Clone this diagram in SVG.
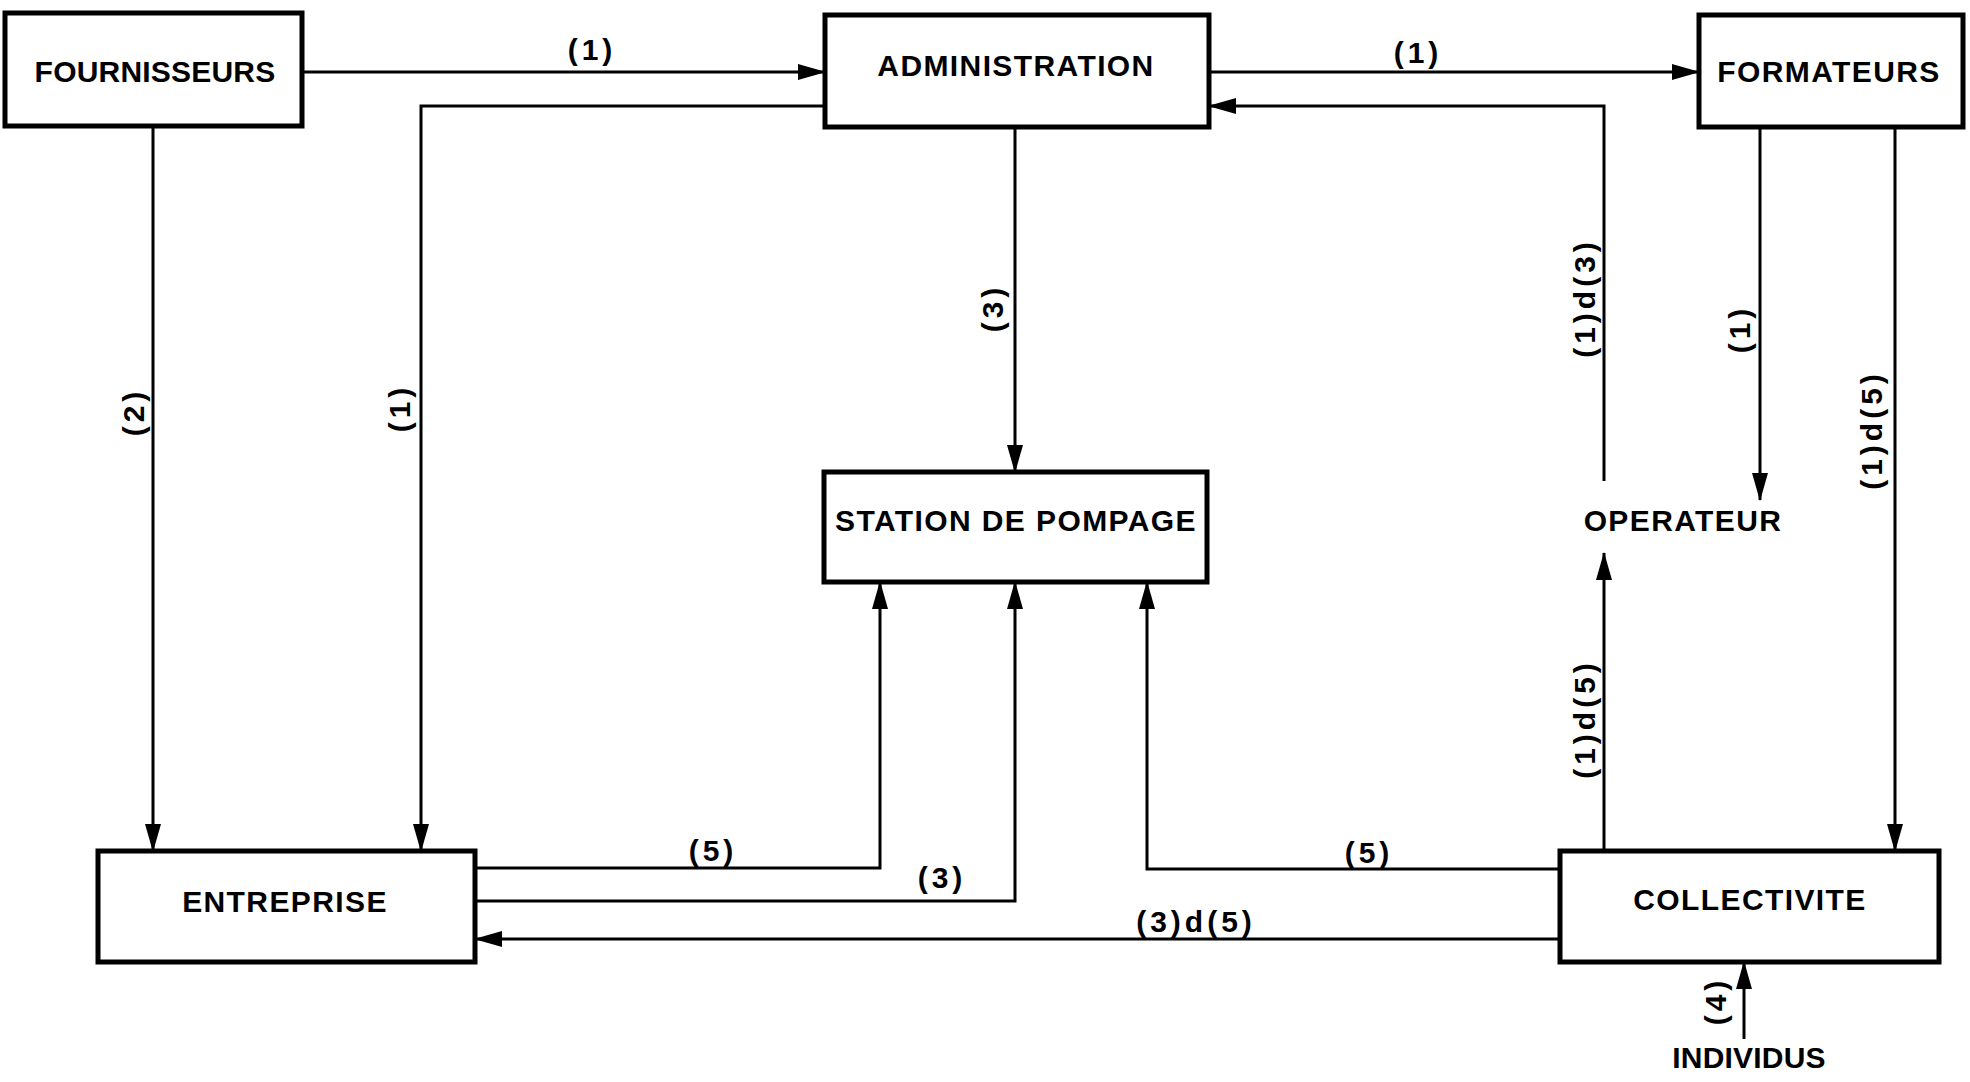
<svg xmlns="http://www.w3.org/2000/svg" width="1970" height="1082" viewBox="0 0 1970 1082">
<style>
.box{fill:#fff;stroke:#000;stroke-width:5}
.n{font-family:"Liberation Sans",Arial,sans-serif;font-weight:bold;font-size:30px;letter-spacing:1.4px;text-anchor:middle;fill:#000}
.l{font-family:"Liberation Sans",Arial,sans-serif;font-weight:bold;font-size:30px;letter-spacing:4px;text-anchor:middle;fill:#000}
.c{fill:none;stroke:#000;stroke-width:3;marker-end:url(#ah)}
</style>
<defs>
<marker id="ah" markerUnits="userSpaceOnUse" markerWidth="28" markerHeight="18" refX="27" refY="9" orient="auto">
<path d="M0,1 L28,9 L0,17 z" fill="#000"/>
</marker>
</defs>
<rect width="1970" height="1082" fill="#fff"/>
<g id="connectors">
<path class="c" d="M302,72 H825"/>
<text class="l" x="592" y="60">(1)</text>
<path class="c" d="M1209,72 H1699"/>
<text class="l" x="1418" y="63">(1)</text>
<path class="c" d="M153,126 V851"/>
<text class="l" transform="translate(134,412) rotate(-90)" y="10">(2)</text>
<path class="c" d="M825,106 H421 V851"/>
<text class="l" transform="translate(400,408) rotate(-90)" y="10">(1)</text>
<path class="c" d="M1015,127 V472"/>
<text class="l" transform="translate(993,308) rotate(-90)" y="10">(3)</text>
<path class="c" d="M1604,481 V106 H1209"/>
<text class="l" transform="translate(1585,298) rotate(-90)" y="10">(1)d(3)</text>
<path class="c" d="M1760,127 V500"/>
<text class="l" transform="translate(1740,329) rotate(-90)" y="10">(1)</text>
<path class="c" d="M1895,127 V851"/>
<text class="l" transform="translate(1872,430) rotate(-90)" y="10">(1)d(5)</text>
<path class="c" d="M1604,851 V553"/>
<text class="l" transform="translate(1585,719) rotate(-90)" y="10">(1)d(5)</text>
<path class="c" d="M475,868 H880 V582"/>
<text class="l" x="713" y="861">(5)</text>
<path class="c" d="M475,901 H1015 V582"/>
<text class="l" x="942" y="888">(3)</text>
<path class="c" d="M1560,869 H1147 V582"/>
<text class="l" x="1369" y="863">(5)</text>
<path class="c" d="M1560,939 H475"/>
<text class="l" x="1196" y="932">(3)d(5)</text>
<path class="c" d="M1744,1039 V962"/>
<text class="l" transform="translate(1716,1001) rotate(-90)" y="10">(4)</text>
</g>
<g id="fournisseurs"><rect class="box" x="5" y="13" width="297" height="113"/><text class="n" x="155" y="82" style="letter-spacing:0.2px">FOURNISSEURS</text></g>
<g id="administration"><rect class="box" x="825" y="15" width="384" height="112"/><text class="n" x="1016" y="76">ADMINISTRATION</text></g>
<g id="formateurs"><rect class="box" x="1699" y="15" width="264" height="112"/><text class="n" x="1829" y="82">FORMATEURS</text></g>
<g id="station"><rect class="box" x="824" y="472" width="383" height="110"/><text class="n" x="1016" y="531">STATION DE POMPAGE</text></g>
<g id="entreprise"><rect class="box" x="98" y="851" width="377" height="111"/><text class="n" x="285" y="912">ENTREPRISE</text></g>
<g id="collectivite"><rect class="box" x="1560" y="851" width="379" height="111"/><text class="n" x="1750" y="910">COLLECTIVITE</text></g>
<g id="operateur"><text class="n" x="1683" y="531">OPERATEUR</text></g>
<g id="individus"><text class="n" x="1749" y="1068" style="letter-spacing:0.2px">INDIVIDUS</text></g>
</svg>
